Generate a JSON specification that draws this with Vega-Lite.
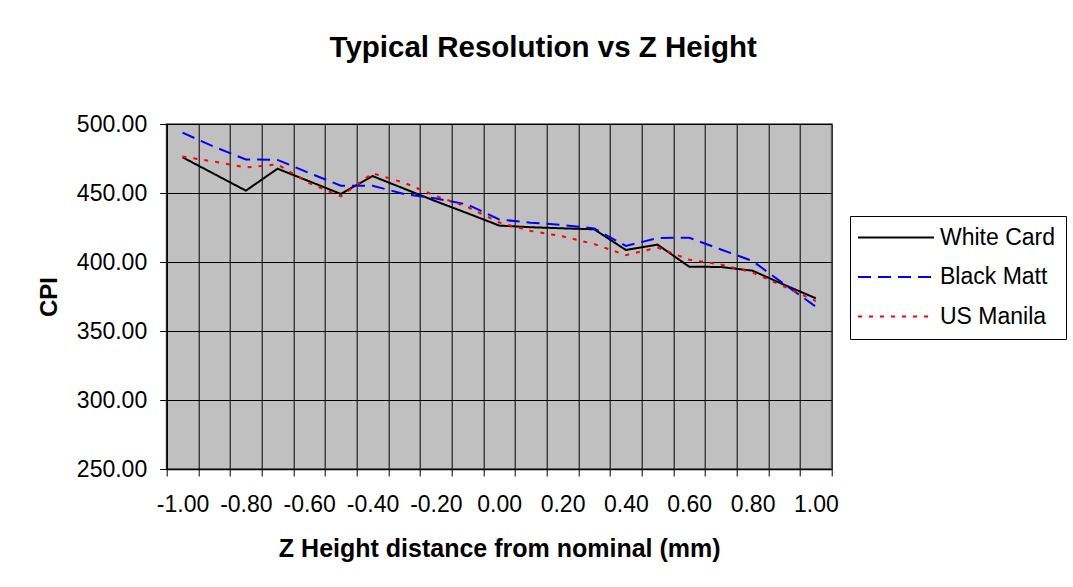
{
  "$schema": "https://vega.github.io/schema/vega-lite/v6.json",
  "width": 665,
  "height": 345,
  "autosize": {"type": "none"},
  "padding": {"left": 166.7, "top": 124, "right": 241.3, "bottom": 118},
  "background": "white",
  "title": {"text": "Typical Resolution vs Z Height", "fontSize": 29.5, "fontWeight": "bold", "font": "Liberation Sans", "color": "black", "anchor": "middle", "dx": 44, "offset": 50},
  "data": {"values": [
    {"z": -1.0, "cpi": 475.9, "series": "White Card"},
    {"z": -0.9, "cpi": 463.8, "series": "White Card"},
    {"z": -0.8, "cpi": 451.7, "series": "White Card"},
    {"z": -0.7, "cpi": 467.6, "series": "White Card"},
    {"z": -0.6, "cpi": 458.5, "series": "White Card"},
    {"z": -0.5, "cpi": 449.3, "series": "White Card"},
    {"z": -0.4, "cpi": 462.3, "series": "White Card"},
    {"z": -0.3, "cpi": 453.1, "series": "White Card"},
    {"z": -0.2, "cpi": 444.0, "series": "White Card"},
    {"z": -0.1, "cpi": 435.3, "series": "White Card"},
    {"z": 0.0, "cpi": 426.4, "series": "White Card"},
    {"z": 0.1, "cpi": 425.2, "series": "White Card"},
    {"z": 0.2, "cpi": 424.4, "series": "White Card"},
    {"z": 0.3, "cpi": 423.7, "series": "White Card"},
    {"z": 0.4, "cpi": 408.7, "series": "White Card"},
    {"z": 0.5, "cpi": 412.6, "series": "White Card"},
    {"z": 0.6, "cpi": 396.6, "series": "White Card"},
    {"z": 0.7, "cpi": 396.4, "series": "White Card"},
    {"z": 0.8, "cpi": 393.7, "series": "White Card"},
    {"z": 0.9, "cpi": 383.5, "series": "White Card"},
    {"z": 1.0, "cpi": 373.7, "series": "White Card"},
    {"z": -1.0, "cpi": 493.7, "series": "Black Matt"},
    {"z": -0.9, "cpi": 483.5, "series": "Black Matt"},
    {"z": -0.8, "cpi": 474.3, "series": "Black Matt"},
    {"z": -0.7, "cpi": 474.0, "series": "Black Matt"},
    {"z": -0.6, "cpi": 464.5, "series": "Black Matt"},
    {"z": -0.5, "cpi": 455.3, "series": "Black Matt"},
    {"z": -0.4, "cpi": 455.3, "series": "Black Matt"},
    {"z": -0.3, "cpi": 449.3, "series": "Black Matt"},
    {"z": -0.2, "cpi": 446.0, "series": "Black Matt"},
    {"z": -0.1, "cpi": 441.7, "series": "Black Matt"},
    {"z": 0.0, "cpi": 430.8, "series": "Black Matt"},
    {"z": 0.1, "cpi": 428.5, "series": "Black Matt"},
    {"z": 0.2, "cpi": 426.8, "series": "Black Matt"},
    {"z": 0.3, "cpi": 424.3, "series": "Black Matt"},
    {"z": 0.4, "cpi": 411.6, "series": "Black Matt"},
    {"z": 0.5, "cpi": 417.4, "series": "Black Matt"},
    {"z": 0.6, "cpi": 417.6, "series": "Black Matt"},
    {"z": 0.7, "cpi": 409.1, "series": "Black Matt"},
    {"z": 0.8, "cpi": 400.7, "series": "Black Matt"},
    {"z": 0.9, "cpi": 384.0, "series": "Black Matt"},
    {"z": 1.0, "cpi": 367.6, "series": "Black Matt"},
    {"z": -1.0, "cpi": 476.4, "series": "US Manila"},
    {"z": -0.9, "cpi": 472.7, "series": "US Manila"},
    {"z": -0.8, "cpi": 468.5, "series": "US Manila"},
    {"z": -0.7, "cpi": 470.7, "series": "US Manila"},
    {"z": -0.6, "cpi": 457.2, "series": "US Manila"},
    {"z": -0.5, "cpi": 447.5, "series": "US Manila"},
    {"z": -0.4, "cpi": 464.3, "series": "US Manila"},
    {"z": -0.3, "cpi": 457.4, "series": "US Manila"},
    {"z": -0.2, "cpi": 447.8, "series": "US Manila"},
    {"z": -0.1, "cpi": 439.9, "series": "US Manila"},
    {"z": 0.0, "cpi": 428.6, "series": "US Manila"},
    {"z": 0.1, "cpi": 422.5, "series": "US Manila"},
    {"z": 0.2, "cpi": 418.6, "series": "US Manila"},
    {"z": 0.3, "cpi": 413.0, "series": "US Manila"},
    {"z": 0.4, "cpi": 405.0, "series": "US Manila"},
    {"z": 0.5, "cpi": 410.4, "series": "US Manila"},
    {"z": 0.6, "cpi": 401.7, "series": "US Manila"},
    {"z": 0.7, "cpi": 398.2, "series": "US Manila"},
    {"z": 0.8, "cpi": 392.4, "series": "US Manila"},
    {"z": 0.9, "cpi": 382.2, "series": "US Manila"},
    {"z": 1.0, "cpi": 371.7, "series": "US Manila"}
  ]},
  "mark": {"type": "line", "strokeWidth": 2},
  "encoding": {
    "x": {
      "field": "z", "type": "quantitative",
      "scale": {"domain": [-1.05, 1.05], "nice": false, "zero": false},
      "axis": {
        "values": [-1.05, -0.95, -0.85, -0.75, -0.65, -0.55, -0.45, -0.35, -0.25, -0.15, -0.05, 0.05, 0.15, 0.25, 0.35, 0.45, 0.55, 0.65, 0.75, 0.85, 0.95, 1.05],
        "labelExpr": "(datum.value < 1 && round((datum.value + 0.05) * 10) % 2 == 0) ? ((datum.value + 0.05 < -0.01) ? '-' : '') + format(abs(datum.value + 0.05), '.2f') : ''",
        "labelOffset": 15.83,
        "labelFlush": false,
        "labelOverlap": false,
        "labelPadding": 17,
        "title": "Z Height distance from nominal (mm)",
        "titleFontSize": 25,
        "titlePadding": 20
      }
    },
    "y": {
      "field": "cpi", "type": "quantitative",
      "scale": {"domain": [250, 500], "nice": false, "zero": false},
      "axis": {
        "values": [250, 300, 350, 400, 450, 500],
        "format": ".2f",
        "labelPadding": 13,
        "title": "CPI",
        "titlePadding": 15
      }
    },
    "color": {
      "field": "series", "type": "nominal",
      "scale": {"domain": ["White Card", "Black Matt", "US Manila"], "range": ["#000000", "#0000FF", "#FF0000"]},
      "legend": {"title": null, "orient": "none", "legendX": 683.3, "legendY": 92}
    },
    "strokeDash": {
      "field": "series", "type": "nominal",
      "scale": {"domain": ["White Card", "Black Matt", "US Manila"], "range": [[1, 0], [13, 7], [4, 7]]},
      "legend": {"title": null, "orient": "none", "legendX": 683.3, "legendY": 92}
    }
  },
  "config": {
    "font": "Liberation Sans",
    "view": {"fill": "#C0C0C0", "stroke": "#808080", "strokeWidth": 2},
    "axis": {
      "labelFontSize": 23,
      "labelColor": "black",
      "labelFont": "Liberation Sans",
      "titleFontSize": 24,
      "titleFontWeight": "bold",
      "titleColor": "black",
      "titleFont": "Liberation Sans",
      "tickSize": 7,
      "tickColor": "black",
      "tickWidth": 1,
      "grid": true,
      "gridColor": "black",
      "gridOpacity": 1,
      "gridWidth": 1,
      "domainColor": "black",
      "domainWidth": 1.5
    },
    "legend": {
      "symbolType": "M-4,0H4",
      "symbolSize": 361,
      "symbolStrokeWidth": 2,
      "symbolOffset": 24.5,
      "labelOffset": 32.5,
      "labelFontSize": 23,
      "labelColor": "black",
      "labelFont": "Liberation Sans",
      "labelLimit": 300,
      "padding": 10,
      "rowPadding": 15.5,
      "strokeColor": "black",
      "fillColor": "white",
      "cornerRadius": 0
    }
  }
}
